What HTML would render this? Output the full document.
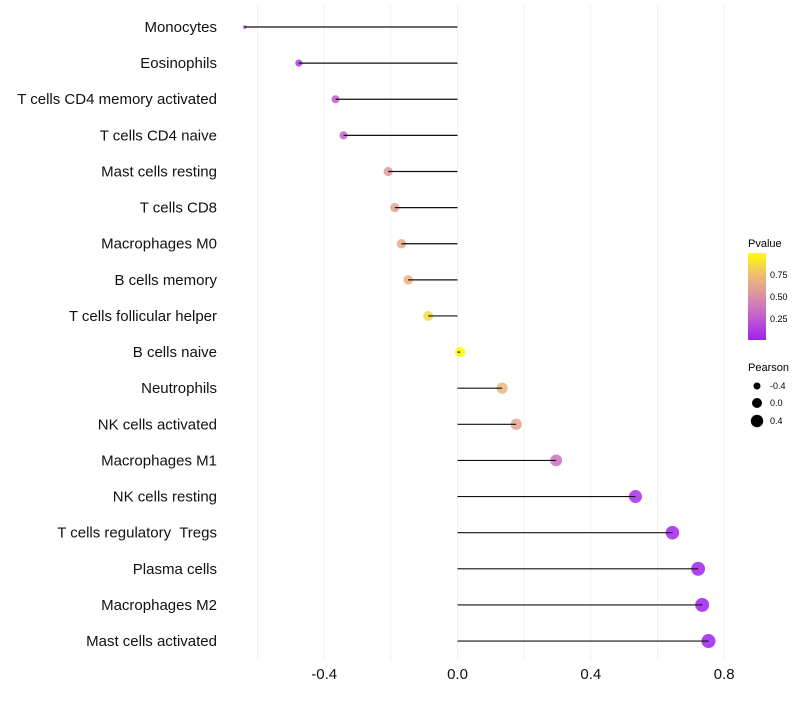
<!DOCTYPE html>
<html><head><meta charset="utf-8"><style>
body{margin:0;background:#fff;font-family:"Liberation Sans",sans-serif;}
</style></head><body>
<svg id="chart" width="800" height="700" xmlns="http://www.w3.org/2000/svg">
<defs><linearGradient id="pg" x1="0" y1="1" x2="0" y2="0">
<stop offset="0" stop-color="#a020f0"/><stop offset="0.25" stop-color="#c25ad0"/><stop offset="0.5" stop-color="#d990a8"/><stop offset="0.75" stop-color="#efbd72"/><stop offset="1" stop-color="#ffff00"/>
</linearGradient></defs>
<g id="grid"></g><g id="marks"></g><g id="ylab"></g><g id="xlab"></g>
<g font-size="10">
<text x="748" y="247" font-size="11">Pvalue</text>
<rect x="748" y="253" width="18" height="87" fill="url(#pg)"/>
<text x="770" y="278" font-size="9">0.75</text>
<text x="770" y="300" font-size="9">0.50</text>
<text x="770" y="322" font-size="9">0.25</text>
<text x="748" y="371" font-size="11">Pearson</text>
<circle cx="757" cy="386" r="3.5" fill="#000"/>
<circle cx="757" cy="403" r="5" fill="#000"/>
<circle cx="757" cy="421" r="6.2" fill="#000"/>
<text x="770" y="389" font-size="9">-0.4</text>
<text x="770" y="406" font-size="9">0.0</text>
<text x="770" y="424" font-size="9">0.4</text>
</g>
</svg>
<script>
const categories=["Monocytes","Eosinophils","T cells CD4 memory activated","T cells CD4 naive","Mast cells resting","T cells CD8","Macrophages M0","B cells memory","T cells follicular helper","B cells naive","Neutrophils","NK cells activated","Macrophages M1","NK cells resting","T cells regulatory  Tregs","Plasma cells","Macrophages M2","Mast cells activated"];
const pearson=[-0.638,-0.476,-0.366,-0.342,-0.208,-0.188,-0.168,-0.148,-0.088,0.008,0.134,0.176,0.296,0.534,0.645,0.722,0.734,0.753];
const pvalues=[0.05,0.12,0.25,0.3,0.55,0.6,0.64,0.68,0.85,0.99,0.7,0.6,0.35,0.06,0.02,0.005,0.003,0.002];
const xTicks=[-0.4,0,0.4,0.8];
const xTickLabels=["-0.4","0.0","0.4","0.8"];
const gridVals=[-0.6,-0.4,-0.2,0,0.2,0.4,0.6,0.8];
const NS="http://www.w3.org/2000/svg";
const xS=v=>457.5+v*333.3;
const yS=i=>27+i*36.12;
const rS=v=>{const o=v+0.64;return o<0.05?1.8:Math.sqrt(8+o*29.5);};
const stops=[[0,[160,32,240]],[0.25,[194,90,208]],[0.5,[217,144,168]],[0.75,[239,189,114]],[1,[255,255,0]]];
function col(p){for(let k=1;k<stops.length;k++){if(p<=stops[k][0]){const a=stops[k-1],b=stops[k];const t=(p-a[0])/(b[0]-a[0]);const c=a[1].map((x,j)=>Math.round(x+(b[1][j]-x)*t));return `rgb(${c})`;}}return "rgb(255,255,0)";}
function mk(t,a,parent){const e=document.createElementNS(NS,t);for(const k in a)e.setAttribute(k,a[k]);parent.appendChild(e);return e;}
const grid=document.getElementById('grid'),marks=document.getElementById('marks'),yl=document.getElementById('ylab'),xl=document.getElementById('xlab');
gridVals.forEach(v=>{const l=mk('line',{x1:xS(v),x2:xS(v),y1:5,y2:660,stroke:'#f1f1f1','stroke-width':1},grid);

});
categories.forEach((c,i)=>{const y=yS(i);
const ci=mk('circle',{cx:xS(pearson[i]),cy:y,r:rS(pearson[i]),fill:col(pvalues[i]),'fill-opacity':0.85},marks);


const ln=mk('line',{x1:xS(0),x2:xS(pearson[i]),y1:y,y2:y,stroke:'#111','stroke-width':1.2},marks);


const t=mk('text',{x:217,y:y+5,'text-anchor':'end','font-size':15,fill:'#111','xml:space':'preserve',style:'white-space:pre'},yl);t.textContent=c;

});
xTicks.forEach((v,k)=>{const t=mk('text',{x:xS(v),y:679,'text-anchor':'middle','font-size':15,fill:'#111'},xl);t.textContent=xTickLabels[k];

});
</script>
</body></html>
